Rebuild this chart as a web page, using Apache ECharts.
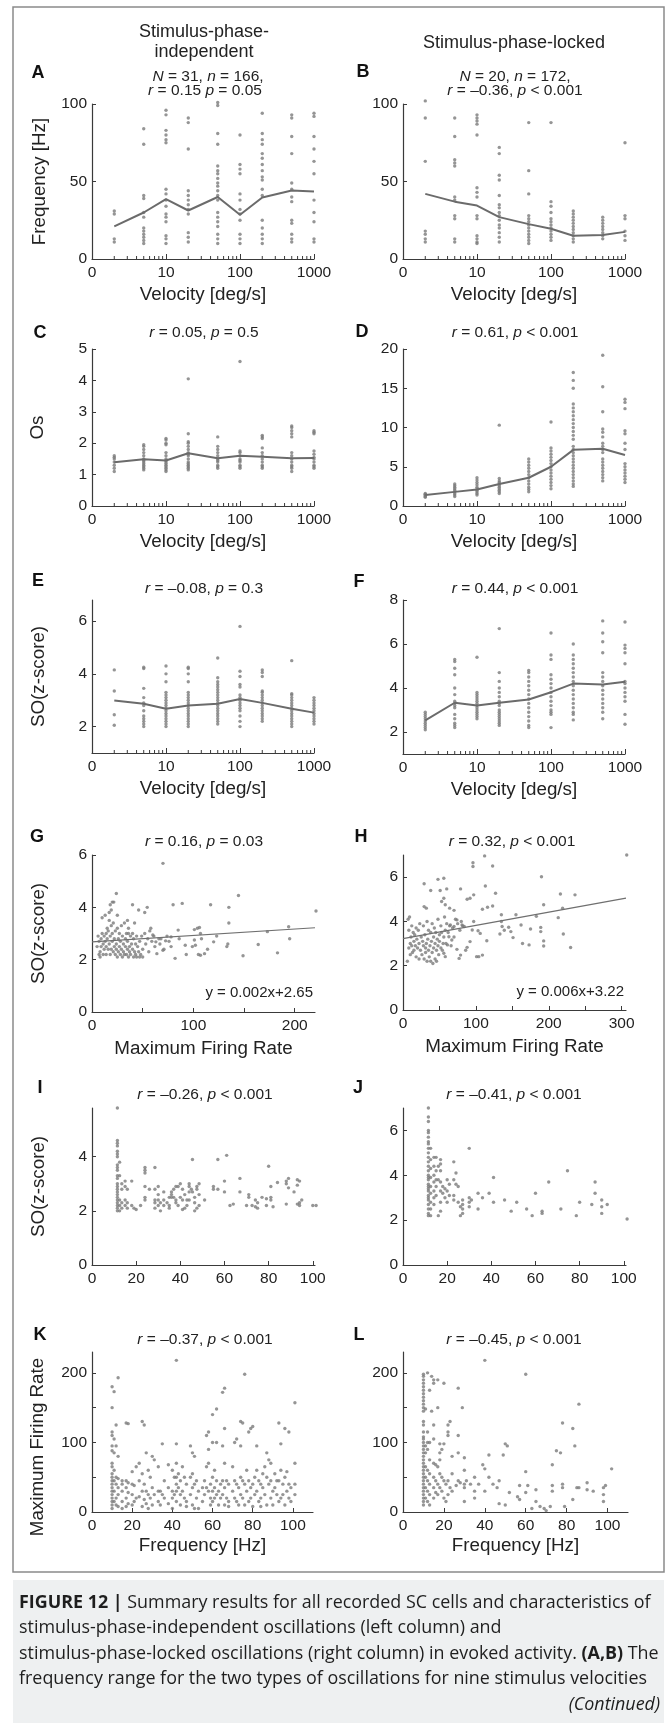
<!DOCTYPE html>
<html><head><meta charset="utf-8">
<script src="https://cdn.jsdelivr.net/npm/echarts@6/dist/echarts.min.js"></script>
<style>html,body{margin:0;padding:0;background:#fff}#c{width:667px;height:1723px}</style>
</head><body><div id="c"></div>
<script>
// ---------------- DATA ----------------
const velocities = [2, 5, 10, 20, 50, 100, 200, 500, 1000];
const velocityTickLabels = [1, 10, 100, 1000]; // the value 1 is printed as "0" in the figure

// Panel A: frequency [Hz], stimulus-phase-independent (one list per velocity)
const ptsA = [
  [31, 29, 13, 11],
  [84, 74, 41, 39, 30, 27, 20, 18, 16, 14, 12, 10],
  [96, 93, 83, 80, 77, 75, 45, 42, 38, 34, 29, 27, 24, 15, 13, 10],
  [91, 88, 71, 44, 41, 38, 35, 32, 29, 17, 14, 11],
  [101, 99, 81, 74, 60, 57, 55, 52, 49, 47, 44, 41, 38, 30, 27, 24, 21, 16, 13, 10],
  [80, 61, 58, 55, 42, 38, 32, 29, 25, 16, 13, 10],
  [94, 81, 77, 74, 68, 65, 61, 57, 53, 51, 45, 41, 25, 20, 16, 13, 10],
  [93, 91, 79, 68, 49, 45, 40, 37, 25, 23, 16, 13, 11],
  [94, 92, 79, 71, 63, 55, 38, 30, 24, 13, 11]
];
const meanA = [21, 30, 38.6, 31.3, 40, 28.5, 39.7, 44.2, 43.6];

// Panel B: frequency [Hz], stimulus-phase-locked
const ptsB = [
  [102, 91, 63, 18, 16, 13, 11],
  [91, 79, 64, 62, 60, 40, 38, 28, 26, 13, 11],
  [93, 91, 89, 87, 80, 46, 43, 40, 28, 26, 15, 13, 11, 10],
  [72, 68, 54, 51, 41, 35, 33, 30, 28, 25, 22, 20, 17, 14, 11],
  [88, 57, 42, 28, 26, 24, 22, 20, 18, 16, 14, 12, 10],
  [88, 37, 34, 30, 26, 24, 22, 20, 18, 16, 14, 12],
  [31, 29, 27, 25, 23, 21, 19, 17, 15, 13, 11],
  [27, 25, 23, 21, 19, 17, 15, 13],
  [75, 28, 26, 18, 15, 12]
];
const meanB = [42, 37, 34.5, 27, 22.5, 19.5, 15, 15.5, 17.5];

// Panel C: Os, independent
const ptsC = [
  [1.6, 1.55, 1.5, 1.4, 1.3, 1.2, 1.1],
  [1.95, 1.9, 1.8, 1.7, 1.6, 1.5, 1.45, 1.4, 1.35, 1.3, 1.25, 1.2, 1.15],
  [2.15, 2.1, 2.0, 1.95, 1.7, 1.6, 1.5, 1.45, 1.4, 1.35, 1.3, 1.25, 1.2, 1.15, 1.1],
  [4.05, 2.3, 2.05, 2.0, 1.9, 1.8, 1.7, 1.65, 1.6, 1.5, 1.4, 1.35, 1.3, 1.25, 1.2, 1.15],
  [2.2, 1.9, 1.8, 1.7, 1.6, 1.5, 1.45, 1.4, 1.3, 1.25, 1.2],
  [4.6, 1.75, 1.7, 1.6, 1.5, 1.45, 1.4, 1.3, 1.25, 1.2],
  [2.25, 2.2, 2.15, 1.85, 1.7, 1.6, 1.5, 1.4, 1.3, 1.25, 1.2],
  [2.55, 2.5, 2.4, 2.3, 2.2, 1.7, 1.6, 1.5, 1.4, 1.3, 1.25, 1.2, 1.1],
  [2.4, 2.35, 2.3, 1.75, 1.65, 1.55, 1.5, 1.4, 1.3, 1.25, 1.2]
];
const meanC = [1.39, 1.49, 1.45, 1.68, 1.52, 1.6, 1.57, 1.52, 1.53];

// Panel D: Os, locked
const ptsD = [
  [1.6, 1.5, 1.4, 1.3, 1.2, 1.1],
  [2.8, 2.6, 2.4, 2.2, 2.0, 1.8, 1.6, 1.4, 1.2],
  [3.6, 3.3, 3.0, 2.7, 2.4, 2.2, 2.0, 1.8, 1.6, 1.4],
  [10.3, 3.5, 3.2, 3.0, 2.8, 2.6, 2.4, 2.2, 2.0, 1.8, 1.6],
  [6.0, 5.6, 5.2, 4.8, 4.4, 4.0, 3.6, 3.2, 2.8, 2.4, 2.1, 1.8],
  [10.7, 7.4, 7.0, 6.6, 6.2, 5.8, 5.4, 5.0, 4.6, 4.2, 3.8, 3.4, 3.0, 2.6, 2.2],
  [17.0, 16.0, 15.0, 13.0, 12.5, 12.0, 11.5, 11.0, 10.5, 10.0, 9.5, 9.0, 8.5, 7.6, 7.2, 6.8, 6.4, 6.0, 5.6, 5.2, 4.8, 4.4, 4.0, 3.6, 3.2, 2.8, 2.5],
  [19.2, 15.2, 12.0, 9.8, 9.4, 8.8, 8.0, 7.6, 7.2, 6.8, 6.0, 5.6, 5.2, 4.8, 4.4, 4.0, 3.6, 3.2],
  [13.6, 13.2, 12.4, 9.6, 9.2, 8.0, 7.2, 5.4, 5.0, 4.6, 4.2, 3.8, 3.4, 3.0]
];
const meanD = [1.4, 1.8, 2.1, 2.8, 3.6, 5.0, 7.15, 7.3, 6.5];

// Panel E: SO(z-score), independent
const ptsE = [
  [4.15, 3.35, 2.45, 2.05],
  [4.25, 4.2, 3.45, 3.1, 2.9, 2.8, 2.6, 2.4, 2.3, 2.2, 2.1, 2.0],
  [4.3, 4.0, 3.7, 3.3, 3.2, 3.1, 3.0, 2.9, 2.8, 2.7, 2.6, 2.5, 2.4, 2.3, 2.2, 2.1, 2.0],
  [4.25, 4.2, 4.0, 3.7, 3.3, 3.2, 3.1, 3.0, 2.9, 2.8, 2.7, 2.6, 2.5, 2.4, 2.3, 2.2, 2.1, 2.0],
  [4.6, 3.85, 3.7, 3.6, 3.5, 3.4, 3.3, 3.2, 3.1, 3.0, 2.9, 2.8, 2.7, 2.6, 2.5, 2.4, 2.3, 2.2, 2.1],
  [5.8, 4.1, 3.9, 3.6, 3.5, 3.2, 3.1, 3.0, 2.9, 2.8, 2.7, 2.6, 2.4, 2.2, 2.0],
  [4.15, 4.05, 3.9, 3.35, 3.3, 3.2, 3.1, 3.0, 2.9, 2.8, 2.7, 2.6, 2.5, 2.4, 2.3, 2.2],
  [4.5, 3.25, 3.2, 3.1, 3.0, 2.9, 2.8, 2.7, 2.6, 2.5, 2.4, 2.3, 2.2, 2.1, 2.0],
  [3.1, 3.0, 2.9, 2.8, 2.7, 2.6, 2.5, 2.4, 2.3, 2.2, 2.1]
];
const meanE = [2.99, 2.87, 2.68, 2.8, 2.87, 3.05, 2.9, 2.68, 2.53];

// Panel F: SO(z-score), locked
const ptsF = [
  [2.9, 2.8, 2.7, 2.6, 2.5, 2.4, 2.3, 2.2, 2.1],
  [5.3, 5.2, 4.9, 4.6, 4.0, 3.7, 3.4, 3.3, 3.2, 3.1, 2.8, 2.6, 2.4, 2.3, 2.2],
  [5.4, 3.8, 3.7, 3.6, 3.5, 3.4, 3.3, 3.2, 3.1, 3.0, 2.9, 2.8, 2.7, 2.6],
  [6.7, 4.7, 4.3, 4.0, 3.8, 3.6, 3.4, 3.3, 3.2, 3.0, 2.9, 2.8, 2.7, 2.6, 2.5, 2.4, 2.3],
  [4.8, 4.7, 4.5, 4.3, 4.1, 3.9, 3.7, 3.5, 3.3, 3.1, 2.9, 2.7, 2.5, 2.3, 2.2],
  [6.5, 5.5, 5.3, 4.6, 4.4, 4.2, 4.0, 3.8, 3.6, 3.4, 3.2, 3.0, 2.9, 2.8, 2.2],
  [6.0, 5.5, 5.3, 5.1, 4.9, 4.7, 4.5, 4.3, 4.1, 3.9, 3.7, 3.5, 3.3, 3.1, 2.9, 2.8, 2.55],
  [7.05, 6.5, 6.1, 5.6, 4.7, 4.5, 4.3, 4.1, 3.9, 3.7, 3.5, 3.3, 3.1, 2.9, 2.6],
  [7.0, 5.95, 5.8, 5.6, 5.1, 4.3, 4.2, 4.0, 3.8, 3.6, 3.4, 2.8, 2.35]
];
const meanF = [2.53, 3.33, 3.2, 3.33, 3.48, 3.81, 4.2, 4.16, 4.28];

// Panel G: [max firing rate, SO z-score], independent
const ptsG = [
  [70,5.68],[24,4.53],[21.5,4.2],[18,4.1],[40,4.1],[52,3.8],[54.5,4.0],[80,4.1],[89,4.15],[117,4.1],
  [144.5,4.45],[135,4.0],[135,3.4],[221,3.86],[194,3.26],[195,2.8],[173,3.07],[164,2.58],[183,2.26],[149,2.15],
  [134,2.6],[133,2.5],[120,2.68],[123,2.9],[104,3.2],[106,3.23],[101,3.15],[107,3.0],[108,2.8],[101,2.75],
  [102,2.55],[99,2.5],[92,2.55],[93,2.2],[107,2.17],[105,2.2],[111,2.23],[114,2.4],[82,2.05],[85,3.13],
  [86,2.8],[78,2.87],[78,2.5],[72.6,2.72],[70,2.36],[68,2.8],[60,2.94],[63,2.68],[64,2.23],[58,3.2],
  [5,2.5],[6,2.9],[7,2.2],[7,2.7],[8,2.1],[8,2.3],[9,2.5],[9,2.8],[10,3.6],[10,3.0],
  [11,2.2],[11,2.6],[12,2.4],[12,2.9],[13,2.7],[13,3.7],[14,2.2],[14,2.5],[15,2.8],[15,3.2],
  [16,2.4],[16,3.1],[17,2.6],[17,3.5],[18,2.2],[18,2.9],[19,2.4],[19,3.3],[20,2.7],[20,3.0],
  [21,2.3],[21,3.4],[22,2.5],[22,2.8],[23,2.2],[23,3.1],[24,2.6],[24,2.4],[25,3.2],[25,2.1],
  [26,2.8],[26,2.3],[27,3.0],[27,2.5],[28,2.2],[28,2.7],[29,3.3],[29,2.4],[30,2.1],[30,2.9],
  [31,2.6],[31,2.3],[32,3.4],[32,2.2],[33,2.8],[33,2.5],[34,2.2],[34,3.0],[35,2.4],[35,2.7],
  [36,2.1],[36,3.2],[37,2.5],[37,2.3],[38,2.9],[38,2.2],[39,2.6],[40,3.0],[40,2.4],[41,2.1],
  [41,2.8],[42,2.3],[42,3.4],[43,2.6],[43,2.2],[44,2.9],[44,2.1],[45,2.5],[46,2.3],[46,3.9],
  [47,2.1],[47,2.7],[48,2.2],[49,2.9],[50,2.4],[50,2.1],[52,3.0],[53,2.6],[55,2.8],[56,2.3],
  [57,3.1],[59,2.7],[61,2.9],[62,2.5],[66,2.8],[67,2.6],[71,2.4],[74,2.9],[76,2.7],[17,3.8],
  [19,3.9],[20,4.2],[14,3.0],[25,3.7],[35,3.5],[36,3.0]
];
const regG = [[0, 2.68], [220, 3.22]];

// Panel H: [max firing rate, SO z-score], locked
const ptsH = [
  [112,6.96],[307,7.0],[96,6.65],[96,6.48],[123,6.5],[190,6.02],[216,5.24],[236,5.2],[29,5.7],[48,5.9],
  [56,5.95],[60,5.47],[79,5.47],[113,5.6],[127,5.27],[97,5.2],[92,5.05],[88,5.0],[51,5.4],[38,5.4],
  [56,5.05],[53,4.9],[29,4.67],[32,4.6],[58,4.75],[64,4.6],[70,4.5],[109,4.55],[116,4.64],[123,4.7],
  [193,4.75],[219,4.6],[183,4.23],[213,4.17],[155,4.3],[135,4.3],[135,4.0],[136,3.77],[139,3.6],[133,3.43],
  [145,3.74],[148,3.54],[151,3.27],[162,3.84],[175,3.66],[164,3.0],[173,2.94],[189,3.73],[189,3.54],[193,3.12],
  [193,2.89],[220,3.43],[230,2.82],[104,2.41],[101,2.41],[109,2.48],[115,3.13],[106,3.46],[103,3.58],[97,4.0],
  [95,3.61],[92,3.09],[88,2.83],[86,2.7],[81,3.84],[84,3.77],[74,4.07],[70,3.77],[65,3.84],[63,3.31],
  [61,2.94],[56,2.56],[58,2.41],[77,2.33],[79,2.48],[74,2.74],[67,3.16],
  [6,2.2],[7,4.1],[8,3.6],[8,2.8],[9,4.2],[10,3.0],[10,2.5],[11,3.3],[12,2.9],[12,3.8],
  [13,2.6],[14,3.5],[15,3.1],[15,2.7],[16,3.4],[17,2.9],[18,3.7],[18,2.4],[19,3.2],[20,2.8],
  [21,3.6],[22,3.0],[22,2.3],[23,3.9],[24,2.7],[25,3.3],[26,2.5],[27,3.1],[28,2.9],[28,3.8],
  [29,2.3],[30,3.4],[31,2.8],[31,2.6],[32,3.0],[33,4.0],[33,2.2],[34,3.2],[35,2.7],[35,3.6],
  [36,2.4],[37,2.9],[38,3.5],[38,2.2],[39,3.1],[40,2.6],[40,3.9],[41,2.1],[42,3.3],[42,2.8],
  [43,3.7],[44,2.3],[44,3.0],[45,3.5],[46,2.2],[46,2.7],[47,3.2],[48,2.9],[48,4.1],[49,2.5],
  [50,3.4],[50,3.1],[52,2.8],[52,3.8],[53,3.5],[54,2.7],[55,3.0],[56,3.3],[57,4.2],[58,3.6],
  [59,3.0],[60,3.9],[62,3.5],[64,3.8],[66,2.9],[68,3.7],[70,3.3],[72,4.1],[75,3.9],[78,3.6],
  [80,4.0],[82,3.8]
];
const regH = [[0, 3.22], [306, 5.05]];

// Panel I: [frequency, [SO z-scores]], independent
const colsI = [
  [11.5,[5.8,4.6,4.5,4.4,4.2,4.1,4.0,3.7,3.6,3.5,3.3,3.2,3.0,2.9,2.8,2.7,2.6,2.5,2.4,2.3,2.2,2.1,2.0]],
  [12.5,[3.8,3.3,2.4,2.2,2.0]],[13.5,[3.0,2.8,2.3,2.1]],[15,[3.1,2.9,2.4,2.2]],[16,[2.8,2.3,2.1]],
  [18,[3.1,2.2]],[19,[2.1]],[20,[2.05]],[22,[2.2]],[24,[3.6,3.5,3.4,2.9,2.5,2.4]],[26,[2.8]],
  [28.5,[3.6,2.8,2.4,2.3,2.1]],[30,[2.9,2.6,2.4,2.2]],[31,[2.3,2.0]],[32.5,[2.7,2.4,2.2]],[34,[2.3]],
  [35,[2.5,2.2,2.1]],[36,[2.6,2.5,2.7]],[37,[2.8,2.5]],[38,[2.9,2.4,2.3]],[39,[2.9,2.2]],[40,[3.0,2.5]],
  [41,[2.8,2.4,2.05]],[42,[2.6,2.1]],[43,[2.4,2.2]],[44,[3.0,2.9,2.7,2.4]],[45,[2.8]],[45.5,[3.9,2.7]],
  [46.5,[2.5,2.3,2.0]],[47.5,[2.9,2.8,2.1]],[48.5,[3.0,2.6,2.2]],[51,[2.4]],[55,[2.9,2.8]],[57,[3.9,2.8]],
  [60,[3.1,2.7]],[61,[4.05]],[62.5,[2.2]],[64,[2.25]],[67,[3.2,2.7]],[70,[2.2]],[71,[2.6,2.5]],[72.5,[2.2]],
  [74,[2.4,2.15]],[75,[2.3,2.1]],[77,[2.5]],[79,[2.45,2.2]],[80,[3.65]],[81,[2.9,2.5,2.4]],[82,[2.15]],
  [84,[3.05]],[88,[3.1,3.0,2.25]],[89,[3.2,2.85]],[91.5,[2.7]],[93,[3.15,2.95,2.25]],[94,[3.1,2.3,2.2]],
  [95,[2.4]],[100,[2.2]],[101.5,[2.2]]
];

// Panel J: [frequency, [SO z-scores]], locked
const colsJ = [
  [11.5,[7.0,6.6,6.4,6.0,5.9,5.7,5.5,5.4,5.2,5.0,4.8,4.6,4.4,4.2,4.0,3.9,3.8,3.6,3.5,3.4,3.3,3.1,3.0,2.9,2.7,2.5,2.3,2.2]],
  [12.5,[5.2,4.7,4.3,3.9,3.5,3.2,2.8,2.5,2.2]],[14,[4.8,4.4,4.0,3.7,3.3,3.0,2.7]],[15,[4.8,4.2,3.8,3.5,3.1]],
  [16,[4.4,3.8,2.2]],[17,[4.7,4.5,4.2,3.7,3.3,2.8,2.4]],[18,[3.5,3.2]],[19,[3.4,3.0]],[20,[3.8,3.3,2.8]],
  [21,[3.6,3.1]],[23,[4.6,3.8,3.1,2.9]],[24,[4.1,3.6]],[25,[3.5,2.8]],[26,[2.6,2.2]],[27,[2.9,2.7,2.5,2.3]],
  [30,[5.2,3.0,2.8,2.6]],[31,[2.9]],[34,[3.2,2.5]],[36,[3.0]],[39,[3.2]],[41,[3.9,2.8]],[46,[2.9]],
  [49,[2.4]],[51.5,[2.8]],[56,[2.5]],[58.5,[2.2]],[60,[3.2]],[63,[2.4,2.3]],[66,[3.7]],[71.5,[2.5]],
  [74.5,[4.2]],[78.5,[2.2]],[80,[2.8]],[85.5,[2.7]],[87,[3.7,3.2]],[90,[2.9,2.6,2.3]],[92.5,[2.7]],[101.5,[2.05]]
];

// Panel K: [frequency, [max firing rates]], independent
const colsK = [
  [10,[180,150,115,110,95,88,70,65,55,50,45,40,35,30,25,20,15,10,5]],[11,[173,105,85,60,45,30,15]],
  [12,[125,95,50,40,20,10]],[13,[193,80,48,35,25,8]],[15,[45,40,30,15,5]],[17,[128,45,35,20,8]],
  [18,[127,42,28,12]],[20,[58,40,25,10]],[21,[38,15]],[22,[65,20]],[23.5,[70,45,22]],[25,[130,55,30,8]],
  [26,[125,40,18]],[27,[85,30,12]],[28,[60,25,5]],[29,[50,20]],[30,[80,35,10]],[31,[75,25]],[33,[65,30,15]],
  [34,[30,10]],[35,[98,25]],[36,[45,20]],[38,[68,35,12]],[40,[60,30,20,5]],[41,[50,25]],
  [42,[218,98,70,50,40,30,15]],[43,[55,35]],[44,[45,25,10]],[45,[65,30]],[46,[50,20]],[47,[40,15,8]],
  [49,[95,50,25]],[50,[85,55,35,10]],[51,[80,40,5]],[52,[45,20]],[53,[30,5]],[55,[35,15]],[56,[45,25]],
  [57,[110,65,35]],[58,[115,90,70,30]],[59,[40,20,10]],[60,[140,100,50,30,15]],[61,[60,35,20]],
  [62,[148,100,45,25]],[63,[30,10]],[64,[40,20]],[65,[172,95,45,25]],[66,[178,120,70,35,10]],[67,[45,20]],
  [68,[40,15,8]],[70,[65,30]],[71,[100,45,20]],[72,[105,40,15]],[73,[35,10]],[74,[130,95,50,25]],
  [75,[128,45,20]],[76,[198,40,10]],[77,[60,30]],[78,[115,45,15]],[79,[120,35,20]],[80,[123,40,8]],
  [81,[50,25]],[82,[95,60,30]],[83,[45,15]],[84,[40,20,8]],[85,[55,35]],[86,[65,25]],[87,[85,50,10]],
  [88,[75,40]],[89,[70,45,20]],[90,[30,10]],[91,[55,35]],[92,[45,25]],[93,[128,45,15]],[94,[98,60,20]],
  [95,[40,25]],[96,[120,50,10]],[97,[58,30]],[98,[115,40,20]],[99,[35,15]],[101,[157,70,40,25]]
];

// Panel L: [frequency, [max firing rates]], locked
const colsL = [
  [10,[198,195,190,185,180,175,170,165,160,155,150,145,130,125,115,108,105,100,95,90,85,80,75,70,65,60,55,50,45,40,35,30,25,20,15,10]],
  [11,[148,95,85,65,50,35,20]],[12,[200,115,100,90,60,45,30,15]],[13,[175,100,75,55,40,25,10]],[14,[195,145]],
  [15,[190,185,125,105,70,50,35,20]],[16,[68,45,28]],[17,[190,150,65,40,25]],[18,[98,85,75,55,35]],
  [19,[90,50,30]],[20,[185,98,45,20]],[21,[40,15]],[22,[125,115,110,45,25]],[23,[130,35]],[24,[80,55,30]],
  [26,[38]],[27,[178,110,85,45]],[28,[42]],[29,[150]],[30,[78,60,40,35,15]],[31,[45]],[33,[40]],
  [35,[50,30,20]],[37,[40]],[39,[68]],[40,[218,62,30]],[42,[82,50]],[44,[40]],[46,[35]],[47,[45,12]],
  [49,[82]],[50,[98,10]],[51,[95]],[52,[28]],[56,[22]],[57,[38,18]],[60,[198,58,28]],[61,[38]],[63,[5]],
  [65,[15,32]],[67,[8]],[69,[5]],[70,[2]],[72,[8]],[73,[68,38,30]],[75,[88]],[77,[85]],[78,[128,40,35]],
  [79,[8]],[83,[120,18]],[84,[95]],[85,[35]],[86,[155,35]],[90,[42,32]],[93,[30]],[98,[35,25,15]],
  [99,[38]],[102,[62]]
];

// ---------------- STYLE / HELPERS ----------------
const FONT = '"Liberation Sans", Arial, Helvetica, sans-serif';
const CAP_FONT = '"Open Sans", "Liberation Sans", Arial, sans-serif';
const AX = '#3a3a3a', TXT = '#222', DOT = '#7a7a7a', LINE = '#6b6b6b';
const TICK_FS = 15.5, NAME_FS = 18.8, TITLE_FS = 15.5, CAP_FS = 17.9;

const grids = [
  {left: 92, top: 104, width: 222, height: 155},   // A
  {left: 403, top: 104, width: 222, height: 155},  // B
  {left: 92, top: 349, width: 222, height: 157},   // C
  {left: 403, top: 349, width: 222, height: 157},  // D
  {left: 92, top: 600, width: 222, height: 153},   // E
  {left: 403, top: 600, width: 222, height: 154},  // F
  {left: 92, top: 855, width: 223, height: 157},   // G
  {left: 403, top: 855, width: 223, height: 155},  // H
  {left: 92, top: 1108, width: 223, height: 157},  // I
  {left: 403, top: 1108, width: 223, height: 157}, // J
  {left: 92, top: 1352, width: 221, height: 160},  // K
  {left: 403, top: 1352, width: 225, height: 160}  // L
].map(g => Object.assign({containLabel: false, outerBoundsMode: 'none', show: false}, g));

const nameStyle = {color: TXT, fontSize: NAME_FS, fontFamily: FONT};
const lblStyle = {color: TXT, fontSize: TICK_FS, fontFamily: FONT};

function xLog(gi, name) {
  const a = {
    type: 'log', gridIndex: gi, logBase: 10, min: 1, max: 1000,
    axisLine: {show: true, onZero: false, lineStyle: {color: AX, width: 1.2}},
    axisTick: {show: true, inside: true, length: 5, lineStyle: {color: AX, width: 1}},
    axisLabel: Object.assign({show: true, margin: 6, showMinLabel: true, showMaxLabel: true, hideOverlap: false,
      interval: 0, customValues: velocityTickLabels,
      formatter: v => Math.abs(v - 1) < 1e-6 ? '0' : String(Math.round(v))}, lblStyle),
    splitLine: {show: false}, minorTick: {show: false}, minorSplitLine: {show: false}
  };
  if (name) Object.assign(a, {name, nameLocation: 'middle', nameGap: 26, nameMoveOverlap: false, nameTextStyle: nameStyle});
  return a;
}
function vAxis(gi, dim, min, max, ticks, labels, name, gap) {
  const a = {
    type: 'value', gridIndex: gi, min, max, scale: true,
    axisLine: {show: true, onZero: false, lineStyle: {color: AX, width: 1.2}},
    axisTick: {show: true, inside: true, length: 4, customValues: ticks, lineStyle: {color: AX, width: 1}},
    axisLabel: Object.assign({show: true, margin: dim === 'x' ? 6 : 5, customValues: labels, showMinLabel: true, showMaxLabel: true, hideOverlap: false}, lblStyle),
    splitLine: {show: false}
  };
  if (name) Object.assign(a, {name, nameLocation: 'middle', nameGap: gap, nameMoveOverlap: false, nameTextStyle: nameStyle});
  return a;
}

const minorTickVals = [];
[1, 10, 100].forEach(d => { for (let k = 2; k <= 9; k++) minorTickVals.push(d * k); });

function minorSeries(gi, yMin) {
  return {
    type: 'custom', xAxisIndex: gi, yAxisIndex: gi, silent: true, clip: false, z: 4,
    data: minorTickVals.map(v => [v, yMin]),
    renderItem: (p, api) => {
      const pt = api.coord([api.value(0), api.value(1)]);
      return {type: 'line', shape: {x1: pt[0], y1: pt[1], x2: pt[0], y2: pt[1] - 3},
        style: {stroke: AX, lineWidth: 1}};
    }
  };
}
function dots(gi, data) {
  return {type: 'scatter', xAxisIndex: gi, yAxisIndex: gi, data, symbol: 'circle', symbolSize: 3.4,
    itemStyle: {color: DOT}, clip: false, silent: true, z: 2};
}
function colSeries(gi, pts, mean) {
  const data = [];
  pts.forEach((col, i) => col.forEach(v => data.push([velocities[i], v])));
  return [dots(gi, data),
    {type: 'line', xAxisIndex: gi, yAxisIndex: gi, data: velocities.map((v, i) => [v, mean[i]]),
      symbol: 'none', showSymbol: false, lineStyle: {color: LINE, width: 2}, silent: true, z: 3}];
}
function flatCols(cols) {
  const out = [];
  cols.forEach(([x, ys]) => ys.forEach(y => out.push([x, y])));
  return out;
}
function regLine(gi, pts) {
  return {type: 'line', xAxisIndex: gi, yAxisIndex: gi, data: pts, symbol: 'none', showSymbol: false,
    lineStyle: {color: '#6f6f6f', width: 1.2}, silent: true, z: 3};
}

const xAxes = [
  xLog(0, 'Velocity [deg/s]'), xLog(1, 'Velocity [deg/s]'),
  xLog(2, 'Velocity [deg/s]'), xLog(3, 'Velocity [deg/s]'),
  xLog(4, 'Velocity [deg/s]'), xLog(5, 'Velocity [deg/s]'),
  vAxis(6, 'x', 0, 220, [50, 100, 150, 200], [0, 100, 200], 'Maximum Firing Rate', 27),
  vAxis(7, 'x', 0, 306, [50, 100, 150, 200, 250, 300], [0, 100, 200, 300], 'Maximum Firing Rate', 27),
  vAxis(8, 'x', 0, 101, [20, 40, 60, 80, 100], [0, 20, 40, 60, 80, 100]),
  vAxis(9, 'x', 0, 101, [20, 40, 60, 80, 100], [0, 20, 40, 60, 80, 100]),
  vAxis(10, 'x', 0, 110, [20, 40, 60, 80, 100], [0, 20, 40, 60, 80, 100], 'Frequency [Hz]', 24),
  vAxis(11, 'x', 0, 110, [20, 40, 60, 80, 100], [0, 20, 40, 60, 80, 100], 'Frequency [Hz]', 24)
];
const yAxes = [
  vAxis(0, 'y', 0, 100, [0, 50, 100], [0, 50, 100], 'Frequency [Hz]', 43),
  vAxis(1, 'y', 0, 100, [0, 50, 100], [0, 50, 100]),
  vAxis(2, 'y', 0, 5, [0, 1, 2, 3, 4, 5], [0, 1, 2, 3, 4, 5], 'Os', 45),
  vAxis(3, 'y', 0, 20, [0, 5, 10, 15, 20], [0, 5, 10, 15, 20]),
  vAxis(4, 'y', 1, 6.8, [2, 4, 6], [2, 4, 6], 'SO(z-score)', 44),
  vAxis(5, 'y', 1, 8, [2, 4, 6, 8], [2, 4, 6, 8]),
  vAxis(6, 'y', 0, 6, [0, 2, 4, 6], [0, 2, 4, 6], 'SO(z-score)', 44),
  vAxis(7, 'y', 0, 7, [0, 2, 4, 6], [0, 2, 4, 6]),
  vAxis(8, 'y', 0, 5.8, [0, 2, 4], [0, 2, 4], 'SO(z-score)', 44),
  vAxis(9, 'y', 0, 7, [0, 2, 4, 6], [0, 2, 4, 6]),
  vAxis(10, 'y', 0, 230, [0, 50, 100, 150, 200], [0, 100, 200]),
  vAxis(11, 'y', 0, 230, [0, 50, 100, 150, 200], [0, 100, 200])
];

const series = [].concat(
  colSeries(0, ptsA, meanA), colSeries(1, ptsB, meanB),
  colSeries(2, ptsC, meanC), colSeries(3, ptsD, meanD),
  colSeries(4, ptsE, meanE), colSeries(5, ptsF, meanF),
  [minorSeries(0, 0), minorSeries(1, 0), minorSeries(2, 0), minorSeries(3, 0), minorSeries(4, 1), minorSeries(5, 1)],
  [dots(6, ptsG), regLine(6, regG), dots(7, ptsH), regLine(7, regH)],
  [dots(8, flatCols(colsI)), dots(9, flatCols(colsJ)), dots(10, flatCols(colsK)), dots(11, flatCols(colsL))]
);

// ---------------- TEXT (graphic) ----------------
const rich = {
  i: {fontStyle: 'italic', fontSize: TITLE_FS, fontFamily: FONT, fill: TXT},
  b: {fontWeight: 'bold', fontSize: CAP_FS, fontFamily: CAP_FONT, fill: '#1e1e1e'},
  ci: {fontStyle: 'italic', fontSize: CAP_FS, fontFamily: CAP_FONT, fill: '#1e1e1e'}
};
function T(x, y, text, fs, opt) {
  return {type: 'text', x, y, silent: true, z: 10,
    style: Object.assign({text, fontSize: fs, fontFamily: FONT, fill: TXT, align: 'center', verticalAlign: 'middle', rich}, opt || {})};
}
const letters = [['A', 38, 73], ['B', 363, 72], ['C', 40, 333], ['D', 362, 332], ['E', 38, 581], ['F', 359, 582],
  ['G', 37, 837], ['H', 361, 837], ['I', 40, 1088], ['J', 358, 1088], ['K', 40, 1335], ['L', 359, 1335]];
const titles = [
  ['{i|r} = 0.05, {i|p} = 0.5', 204, 333], ['{i|r} = 0.61, {i|p} < 0.001', 515, 333],
  ['{i|r} = –0.08, {i|p} = 0.3', 204, 589], ['{i|r} = 0.44, {i|p} < 0.001', 515, 589],
  ['{i|r} = 0.16, {i|p} = 0.03', 204, 842], ['{i|r} = 0.32, {i|p} < 0.001', 512, 842],
  ['{i|r} = –0.26, {i|p} < 0.001', 205, 1095], ['{i|r} = –0.41, {i|p} < 0.001', 514, 1095],
  ['{i|r} = –0.37, {i|p} < 0.001', 205, 1340], ['{i|r} = –0.45, {i|p} < 0.001', 514, 1340]
];
const capLines = [
  '{b|FIGURE 12 |} Summary results for all recorded SC cells and characteristics of',
  'stimulus-phase-independent oscillations (left column) and',
  'stimulus-phase-locked oscillations (right column) in evoked activity. {b|(A,B)} The',
  'frequency range for the two types of oscillations for nine stimulus velocities'
];

const kName = {type: 'text', x: 38, y: 1447, rotation: Math.PI / 2, silent: true, z: 10,
  style: {text: 'Maximum Firing Rate', fontSize: NAME_FS, fontFamily: FONT, fill: TXT, align: 'center', verticalAlign: 'middle'}};

const graphic = [
  {type: 'rect', shape: {x: 13, y: 7, width: 651, height: 1565}, style: {fill: null, stroke: '#8a8a8a', lineWidth: 1.5}, silent: true, z: 0},
  {type: 'rect', shape: {x: 13, y: 1580, width: 651, height: 143}, style: {fill: '#eef0f1'}, silent: true, z: 0},
  T(204, 32, 'Stimulus-phase-', 18), T(204, 52, 'independent', 18), T(514, 43, 'Stimulus-phase-locked', 18),
  T(208, 77, '{i|N} = 31, {i|n} = 166,', TITLE_FS), T(205, 91, '{i|r} = 0.15 {i|p} = 0.05', TITLE_FS),
  T(515, 77, '{i|N} = 20, {i|n} = 172,', TITLE_FS), T(515, 91, '{i|r} = –0.36, {i|p} < 0.001', TITLE_FS),
  T(313, 993, 'y = 0.002x+2.65', 15, {align: 'right'}),
  T(624, 992, 'y = 0.006x+3.22', 15, {align: 'right'}),
  kName
].concat(
  letters.map(([s, x, y]) => T(x, y, s, 18, {fontWeight: 'bold', fill: '#111'})),
  titles.map(([s, x, y]) => T(x, y, s, TITLE_FS)),
  capLines.map((s, i) => T(19, [1603, 1628, 1654, 1679][i], s, CAP_FS, {align: 'left', fill: '#1e1e1e', fontFamily: CAP_FONT})),
  [T(660, 1705, '{ci|(Continued)}', CAP_FS, {align: 'right', fontFamily: CAP_FONT})]
);

const chart = echarts.init(document.getElementById('c'), null, {renderer: 'canvas', width: 667, height: 1723});
chart.setOption({
  animation: false,
  backgroundColor: '#fff',
  grid: grids,
  xAxis: xAxes,
  yAxis: yAxes,
  series,
  graphic
});
</script>
</body></html>
